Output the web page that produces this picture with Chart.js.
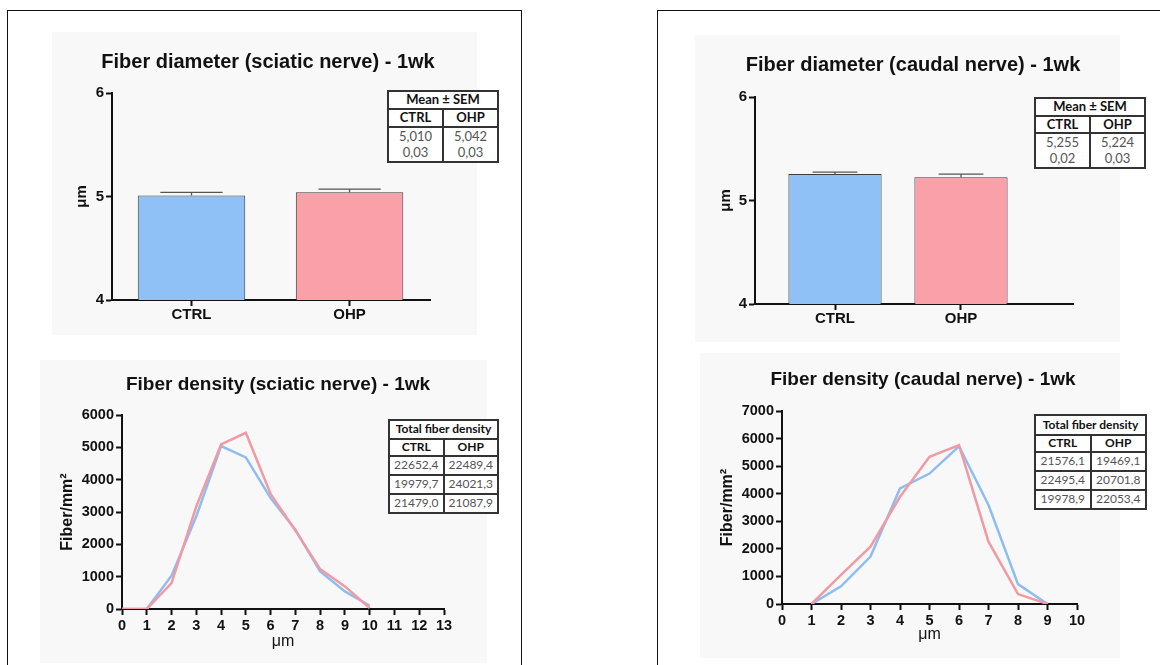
<!DOCTYPE html>
<html>
<head>
<meta charset="utf-8">
<script src="https://cdn.jsdelivr.net/npm/chart.js@4.4.1/dist/chart.umd.min.js"></script>
<style>
  body { margin: 0; width: 1160px; height: 665px; overflow: hidden; position: relative; background: #fff; }
  .panel { position: absolute; border: 1.5px solid #111; box-sizing: border-box; }
  .plot { position: absolute; background: #f8f8f8; }
  canvas { position: absolute; display: block; }
  table.stats { position: absolute; border-collapse: collapse; table-layout: fixed; font-family: Lato, "Open Sans", sans-serif; font-size: 12px; text-align: center; background: #fff; }
  table.stats.mean { font-size: 13px; }
  table.stats td { border: 2px solid #333; padding: 0; line-height: 1.2; color: #555; }
  table.stats td.head { color: #111; font-weight: bold; }
</style>
</head>
<body>
<div class="panel" style="left:7px;top:10px;width:515px;height:700px"></div>
<div class="panel" style="left:657px;top:10px;width:600px;height:700px"></div>

<div class="plot" style="left:52px;top:32px;width:425px;height:303px"></div>
<div class="plot" style="left:695px;top:35px;width:425px;height:307px"></div>
<div class="plot" style="left:40px;top:360px;width:447px;height:303px"></div>
<div class="plot" style="left:700px;top:353px;width:420px;height:305px"></div>

<canvas id="sciaticDiam" style="left:52px;top:32px" width="432" height="303"></canvas>
<canvas id="caudalDiam" style="left:695px;top:35px" width="436" height="307"></canvas>
<canvas id="sciaticDens" style="left:40px;top:360px" width="476" height="303"></canvas>
<canvas id="caudalDens" style="left:700px;top:353px" width="446" height="305"></canvas>

<table class="stats mean" id="sciaticMeanTable" style="left:387px;top:90px;width:112px"></table>
<table class="stats mean" id="caudalMeanTable" style="left:1034px;top:97px;width:112px"></table>
<table class="stats" id="sciaticTotalTable" style="left:388px;top:419px;width:111px"></table>
<table class="stats" id="caudalTotalTable" style="left:1034px;top:414px;width:113px"></table>

<script>
// groups and values
const groups = ['CTRL', 'OHP'];

const sciaticDiamMean = [5.010, 5.042];
const sciaticDiamSem = [0.03, 0.03];
const caudalDiamMean = [5.255, 5.224];
const caudalDiamSem = [0.02, 0.03];

const sciaticBins = [0, 1, 2, 3, 4, 5, 6, 7, 8, 9, 10];
const sciaticCtrl = [0, 0, 1030, 2870, 5040, 4690, 3430, 2450, 1160, 545, 100];
const sciaticOhp = [0, 0, 800, 3170, 5090, 5450, 3560, 2430, 1235, 700, 30];

const caudalBins = [1, 2, 3, 4, 5, 6, 7, 8, 9];
const caudalCtrl = [0, 640, 1720, 4190, 4730, 5720, 3590, 720, 0];
const caudalOhp = [0, 1060, 2080, 3890, 5340, 5760, 2260, 360, 0];

const sciaticTotalsCtrl = ['22652,4', '19979,7', '21479,0'];
const sciaticTotalsOhp = ['22489,4', '24021,3', '21087,9'];
const caudalTotalsCtrl = ['21576,1', '22495,4', '19978,9'];
const caudalTotalsOhp = ['19469,1', '20701,8', '22053,4'];

const INK = '#111';
const FONT = '"Liberation Sans", Arial, sans-serif';
const BLUE_BAR = '#8fc1f6';
const PINK_BAR = '#f9a0a9';
const BLUE_LINE = '#8ebdef';
const PINK_LINE = '#f29aa4';

Chart.defaults.font.family = FONT;
Chart.defaults.color = INK;

// SEM whiskers on top of each bar
const errorBars = {
    id: 'errorBars',
    afterDatasetsDraw(chart, args, opts) {
        if (!opts.sems) return;
        const { ctx } = chart;
        const y = chart.scales.y;
        const ds = chart.data.datasets[0];
        ctx.save();
        ctx.strokeStyle = '#555';
        ctx.lineWidth = 1.3;
        chart.getDatasetMeta(0).data.forEach((bar, i) => {
            const top = y.getPixelForValue(ds.data[i].y + opts.sems[i]);
            const half = bar.width * opts.capRatio / 2;
            ctx.beginPath();
            ctx.moveTo(bar.x, bar.y);
            ctx.lineTo(bar.x, top);
            ctx.moveTo(bar.x - half, top);
            ctx.lineTo(bar.x + half, top);
            ctx.stroke();
        });
        ctx.restore();
    },
};

function axisStyle(extra) {
    return Object.assign({
        offset: false,
        border: { color: INK, width: 2 },
        grid: { display: true, offset: false, drawOnChartArea: false, drawTicks: true, tickLength: 6, tickWidth: 2, tickColor: INK },
    }, extra);
}

// empty right-hand axis: reserves the blank space right of the plot
// so the full-width title stays centred where the figure has it
function spacerAxis(width) {
    return {
        type: 'linear',
        position: 'right',
        grid: { display: false, drawTicks: false },
        border: { display: false },
        ticks: { display: false },
        afterFit: (s) => { s.width = width; },
    };
}

function titleOpts(text, size, g) {
    return {
        display: true,
        text,
        color: INK,
        font: { size, weight: 'bold', lineHeight: 1.2 },
        padding: { top: g.titleTop, bottom: g.titleBottom },
    };
}

function createBarChart(canvasId, title, means, sems, g) {
    return new Chart(document.getElementById(canvasId), {
        type: 'bar',
        data: {
            datasets: [{
                data: groups.map((grp, i) => ({ x: i, y: means[i] })),
                backgroundColor: [BLUE_BAR, PINK_BAR],
                borderColor: '#3c3c3c',
                borderWidth: 1,
                borderSkipped: false,
                barPercentage: g.barFrac,
                categoryPercentage: 1,
            }],
        },
        options: {
            responsive: false,
            animation: false,
            plugins: {
                legend: { display: false },
                tooltip: { enabled: false },
                title: titleOpts(title, 20, g),
                errorBars: { sems, capRatio: g.cap },
            },
            scales: {
                x: axisStyle({
                    type: 'linear',
                    min: g.xMin,
                    max: g.xMax,
                    afterBuildTicks: (s) => { s.ticks = groups.map((grp, i) => ({ value: i })); },
                    afterFit: (s) => { s.height = g.xHeight; },
                    ticks: { callback: (v) => groups[v], color: INK, font: { size: 15, weight: 'bold' }, padding: 0, maxRotation: 0, autoSkip: false },
                }),
                y: axisStyle({
                    min: 4,
                    max: 6,
                    afterFit: (s) => { s.width = g.yWidth; },
                    ticks: { stepSize: 1, color: INK, font: { size: 15, weight: 'bold' }, padding: 2 },
                    title: { display: true, text: 'μm', color: INK, font: { size: 15, weight: 'bold', lineHeight: 1.2 }, padding: { top: g.yTitlePad, bottom: 0 } },
                }),
                pad: spacerAxis(g.right),
            },
        },
        plugins: [errorBars],
    });
}

function createDensityChart(canvasId, title, bins, ctrl, ohp, xMax, yMax, g) {
    return new Chart(document.getElementById(canvasId), {
        type: 'line',
        data: {
            datasets: [
                { label: 'CTRL', data: bins.map((b, i) => ({ x: b, y: ctrl[i] })), borderColor: BLUE_LINE, order: 1 },
                { label: 'OHP', data: bins.map((b, i) => ({ x: b, y: ohp[i] })), borderColor: PINK_LINE, order: 0 },
            ],
        },
        options: {
            responsive: false,
            animation: false,
            elements: { point: { radius: 0 }, line: { borderWidth: 2.5, tension: 0 } },
            plugins: {
                legend: { display: false },
                tooltip: { enabled: false },
                title: titleOpts(title, 19, g),
            },
            scales: {
                x: axisStyle({
                    type: 'linear',
                    min: 0,
                    max: xMax,
                    afterFit: (s) => { s.height = g.xHeight; },
                    ticks: { stepSize: 1, color: INK, font: { size: 14.5, weight: 'bold' }, padding: 2, maxRotation: 0, autoSkip: false },
                    title: { display: true, text: 'μm', color: INK, font: { size: 16, lineHeight: 1.2 }, padding: { top: 0, bottom: g.xTitlePad } },
                }),
                y: axisStyle({
                    min: 0,
                    max: yMax,
                    afterFit: (s) => { s.width = g.yWidth; },
                    ticks: { stepSize: 1000, callback: (v) => String(v), color: INK, font: { size: 14.5, weight: 'bold' }, padding: 2 },
                    title: { display: true, text: 'Fiber/mm²', color: INK, font: { size: 16, weight: 'bold', lineHeight: 1.2 }, padding: { top: g.yTitlePad, bottom: 0 } },
                }),
                pad: spacerAxis(g.right),
            },
        },
    });
}

function fillMeanTable(id, means, sems, rows) {
    const fmt = (v, d) => v.toFixed(d).replace('.', ',');
    document.getElementById(id).innerHTML =
        `<tr style="height:${rows[0]}px"><td colspan="2" class="head">Mean ± SEM</td></tr>` +
        `<tr style="height:${rows[1]}px">${groups.map((grp) => `<td class="head">${grp}</td>`).join('')}</tr>` +
        `<tr style="height:${rows[2]}px">${means.map((m, i) => `<td>${fmt(m, 3)}<br>${fmt(sems[i], 2)}</td>`).join('')}</tr>`;
}

function fillTotalTable(id, ctrl, ohp, rows) {
    let html = `<tr style="height:${rows[0]}px"><td colspan="2" class="head">Total fiber density</td></tr>` +
        `<tr style="height:${rows[1]}px">${groups.map((grp) => `<td class="head">${grp}</td>`).join('')}</tr>`;
    ctrl.forEach((c, i) => {
        html += `<tr style="height:${rows[2]}px"><td>${c}</td><td>${ohp[i]}</td></tr>`;
    });
    document.getElementById(id).innerHTML = html;
}

createBarChart('sciaticDiam', 'Fiber diameter (sciatic nerve) - 1wk', sciaticDiamMean, sciaticDiamSem, {
    titleTop: 18, titleBottom: 19, yWidth: 60, xHeight: 35, right: 54, yTitlePad: 21,
    xMin: -0.503, xMax: 1.509, barFrac: 0.68, cap: 0.58,
});
createBarChart('caudalDiam', 'Fiber diameter (caudal nerve) - 1wk', caudalDiamMean, caudalDiamSem, {
    titleTop: 18, titleBottom: 20, yWidth: 60, xHeight: 38, right: 58, yTitlePad: 22,
    xMin: -0.635, xMax: 1.889, barFrac: 0.74, cap: 0.48,
});
createDensityChart('sciaticDens', 'Fiber density (sciatic nerve) - 1wk', sciaticBins, sciaticCtrl, sciaticOhp, 13, 6000, {
    titleTop: 13.6, titleBottom: 18.6, yWidth: 82, xHeight: 54, right: 72, yTitlePad: 18, xTitlePad: 11.4,
});
createDensityChart('caudalDens', 'Fiber density (caudal nerve) - 1wk', caudalBins, caudalCtrl, caudalOhp, 10, 7000, {
    titleTop: 15.6, titleBottom: 19.6, yWidth: 82, xHeight: 54, right: 69, yTitlePad: 18, xTitlePad: 13.4,
});

fillMeanTable('sciaticMeanTable', sciaticDiamMean, sciaticDiamSem, [18, 18, 35]);
fillMeanTable('caudalMeanTable', caudalDiamMean, caudalDiamSem, [17, 17, 35]);
fillTotalTable('sciaticTotalTable', sciaticTotalsCtrl, sciaticTotalsOhp, [19, 17, 19]);
fillTotalTable('caudalTotalTable', caudalTotalsCtrl, caudalTotalsOhp, [20, 17, 19]);
</script>
</body>
</html>
